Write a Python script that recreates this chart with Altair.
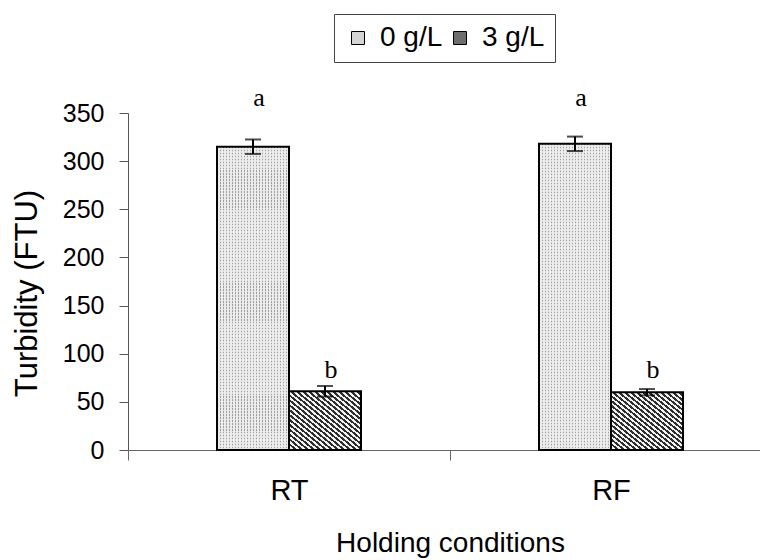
import altair as alt
import pandas as pd

conditions = ["RT", "RF"]
concentrations = ["0 g/L", "3 g/L"]
turbidity_0 = [315, 318]
turbidity_3 = [61, 60]
sd_0 = [7.5, 7.5]
sd_3 = [5.5, 3.3]
letters_0 = ["a", "a"]
letters_3 = ["b", "b"]
letter_y_0 = [357, 357]
letter_y_3 = [75, 75]
y_ticks = [0, 50, 100, 150, 200, 250, 300, 350]

rows = []
for i, c in enumerate(conditions):
    rows.append(dict(cond=c, conc=concentrations[0], mean=turbidity_0[i], sd=sd_0[i],
                     letter=letters_0[i], ly=letter_y_0[i]))
    rows.append(dict(cond=c, conc=concentrations[1], mean=turbidity_3[i], sd=sd_3[i],
                     letter=letters_3[i], ly=letter_y_3[i]))
df = pd.DataFrame(rows)
df["lo"] = df["mean"] - df["sd"]
df["hi"] = df["mean"] + df["sd"]


def stripes(c1, c2, n, x1, y1, x2, y2, frac=0.5):
    stops = []
    for k in range(n):
        a = k / n
        b = (k + frac) / n
        e = (k + 1) / n
        stops += [{"offset": a, "color": c1}, {"offset": b, "color": c1},
                  {"offset": b, "color": c2}, {"offset": e, "color": c2}]
    return {"gradient": "linear", "x1": x1, "y1": y1, "x2": x2, "y2": y2, "stops": stops}


g_dots_v = stripes("#a0a0a0", "#ececec", 24, 0, 0, 1, 0, frac=0.4)
g_dots_h = stripes("rgba(236,236,236,0)", "rgba(236,236,236,0.8)", 102, 0, 0, 0, 1, frac=0.45)
g_hatch = stripes("#2e2e2e", "#f2f2f2", 24, 0, 1, 1, 0)

x_enc = alt.X("cond:N", sort=conditions, title="Holding conditions",
              scale=alt.Scale(range=[0, 644], paddingInner=0, paddingOuter=0),
              axis=alt.Axis(labelAngle=0, tickBand="extent", tickSize=10, labelPadding=16,
                            titlePadding=24, labelFontSize=29, titleFontSize=28,
                            domainColor="#666666", tickColor="#666666"))
xo_enc = alt.XOffset("conc:N", sort=concentrations, scale=alt.Scale(range=[89, 233]))
y_scale = alt.Scale(domain=[0, 350], nice=False)

base = alt.Chart(df)

legend_bars = base.mark_bar().encode(
    x=x_enc, xOffset=xo_enc,
    y=alt.Y("mean:Q", scale=y_scale, title="Turbidity (FTU)",
            axis=alt.Axis(values=y_ticks, grid=False, tickSize=9, labelPadding=15,
                          labelFontSize=25, titleFontSize=31, titlePadding=19, titleY=180,
                          domainColor="#555555", tickColor="#555555")),
    color=alt.Color("conc:N", sort=concentrations, title=None,
                    scale=alt.Scale(domain=concentrations, range=["#d4d4d4", "#6e6e6e"]),
                    legend=alt.Legend(orient="none", legendX=206, legendY=-99,
                                      direction="horizontal", strokeColor="#444444",
                                      padding=10, symbolType="square", symbolSize=169,
                                      symbolStrokeColor="black", symbolStrokeWidth=1,
                                      labelFontSize=28, columnPadding=3, labelOffset=8)),
)

pattern_bars = base.mark_bar().encode(
    x=x_enc, xOffset=xo_enc,
    y=alt.Y("mean:Q", scale=y_scale),
    fill=alt.when(alt.datum.conc == "0 g/L").then(alt.value(g_dots_v)).otherwise(alt.value(g_hatch)),
)

dots_overlay = base.transform_filter(alt.datum.conc == "0 g/L").mark_bar(fill=g_dots_h).encode(
    x=x_enc, xOffset=xo_enc,
    y=alt.Y("mean:Q", scale=y_scale),
)

outline = base.mark_bar(fillOpacity=0, stroke="black", strokeWidth=2).encode(
    x=x_enc, xOffset=xo_enc,
    y=alt.Y("mean:Q", scale=y_scale),
)

err = base.mark_rule(color="black", strokeWidth=2).encode(
    x=x_enc, xOffset=xo_enc,
    y=alt.Y("lo:Q", scale=y_scale), y2="hi:Q",
)
cap_hi = base.mark_tick(color="black", thickness=2, size=16).encode(
    x=x_enc, xOffset=xo_enc, y=alt.Y("hi:Q", scale=y_scale))
cap_lo = base.mark_tick(color="black", thickness=2, size=16).encode(
    x=x_enc, xOffset=xo_enc, y=alt.Y("lo:Q", scale=y_scale))

letters = base.mark_text(font="Liberation Serif", fontSize=26, dx=6, baseline="alphabetic",
                         color="black").encode(
    x=x_enc, xOffset=xo_enc, y=alt.Y("ly:Q", scale=y_scale), text="letter:N")

chart = alt.layer(legend_bars, pattern_bars, dots_overlay, outline, err, cap_hi, cap_lo,
                  letters).properties(
    width=632, height=337,
    autosize=alt.AutoSizeParams(type="none"),
    padding={"left": 128, "top": 113, "right": 0, "bottom": 110},
).configure_view(stroke=None).configure_axis(
    labelFont="Liberation Sans", titleFont="Liberation Sans",
    titleFontWeight="normal", labelColor="black", titleColor="black",
).configure_legend(labelFont="Liberation Sans", labelColor="black")

chart.save("out.html", embed_options={"renderer": "svg", "actions": False})
